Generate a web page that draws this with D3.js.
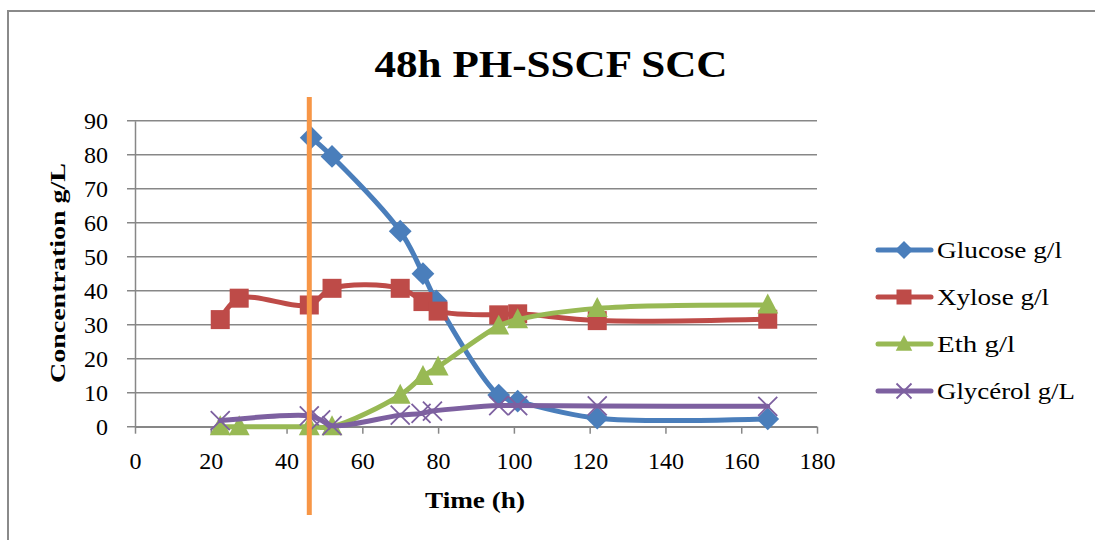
<!DOCTYPE html>
<html><head><meta charset="utf-8">
<script src="https://cdn.jsdelivr.net/npm/d3@7"></script>
<style>body{margin:0;background:#fff}svg{display:block}</style>
</head><body><svg id="c" width="1095" height="540"></svg>
<script>
// ---- data ----
const title = "48h PH-SSCF SCC";
const xLabel = "Time (h)";
const yLabel = "Concentration g/L";
const xTicks = [0,20,40,60,80,100,120,140,160,180];
const yTicks = [0,10,20,30,40,50,60,70,80,90];
const seriesNames = ["Glucose g/l","Xylose g/l","Eth g/l","Glycérol g/L"];
const glucoseT = [46.5,52,70,76,79.5,96,101,122,167];
const glucoseV = [85,79.5,57.5,45,37,9.3,7.5,2.5,2.3];
const xyloseT = [22.5,27.5,46,52,70,76,80,96,101,122,167];
const xyloseV = [31.5,37.8,35.8,40.7,40.7,36.8,34,32.9,33.2,31.2,31.6];
const ethT = [22.5,27.5,46,52,70,76,80,96,101,122,167];
const ethV = [0,0,0,0,9.3,14.8,17.6,29.6,31.5,34.8,35.8];
const glycerolT = [22.5,46,49,52,70,75.5,78.5,96,101,122,167];
const glycerolV = [1.8,3.2,2,0.3,3.4,3.9,4.6,6.2,6.2,6.1,6];
const markerTime = 46;

const svg = d3.select("#c");
const font = "'Liberation Serif', 'Times New Roman', serif";
const x = d3.scaleLinear().domain([0,180]).range([135,817]);
const y = d3.scaleLinear().domain([0,90]).range([426.7,120.7]);
const colors = ["#4A7EBB","#BE4B48","#98B954","#7D60A0"];
const gridCol = "#878787";

// frame
svg.append("path").attr("d","M8,540 V11 H1095").attr("fill","none").attr("stroke","#8a8a8a").attr("stroke-width",2);

// title
svg.append("text").attr("x",551).attr("y",77).attr("text-anchor","middle")
  .attr("font-family",font).attr("font-weight","bold").attr("font-size",38)
  .attr("textLength",353).attr("lengthAdjust","spacingAndGlyphs").text(title);

// gridlines
svg.append("g").selectAll("line").data(yTicks).join("line")
  .attr("x1",127).attr("x2",817).attr("y1",d=>y(d)).attr("y2",d=>y(d))
  .attr("stroke",gridCol).attr("stroke-width",1.5);

// y axis
const yAx = svg.append("g").attr("transform","translate(135,0)")
  .call(d3.axisLeft(y).tickValues(yTicks).tickSize(0).tickPadding(27).tickFormat(d3.format("d")));
yAx.select(".domain").attr("stroke",gridCol).attr("stroke-width",1.5);
yAx.selectAll("text").attr("font-family",font).attr("font-size",24).attr("fill","#000").attr("dy","0.34em");

// x axis
const xAx = svg.append("g").attr("transform","translate(0,426.7)")
  .call(d3.axisBottom(x).tickValues(xTicks).tickSize(7).tickSizeOuter(0).tickPadding(18).tickFormat(d3.format("d")));
xAx.select(".domain").attr("stroke",gridCol).attr("stroke-width",1.5);
xAx.selectAll(".tick line").attr("stroke",gridCol).attr("stroke-width",1.5);
xAx.selectAll("text").attr("font-family",font).attr("font-size",24).attr("fill","#000");

// axis titles
svg.append("text").attr("transform","translate(65,273) rotate(-90)").attr("text-anchor","middle")
  .attr("font-family",font).attr("font-weight","bold").attr("font-size",22)
  .attr("textLength",220).attr("lengthAdjust","spacingAndGlyphs").text(yLabel);
svg.append("text").attr("x",475).attr("y",508).attr("text-anchor","middle")
  .attr("font-family",font).attr("font-weight","bold").attr("font-size",24)
  .attr("textLength",100).attr("lengthAdjust","spacingAndGlyphs").text(xLabel);

// series
const series = [
  {t:glucoseT,v:glucoseV,shape:"diamond"},
  {t:xyloseT,v:xyloseV,shape:"square"},
  {t:ethT,v:ethV,shape:"triangle"},
  {t:glycerolT,v:glycerolV,shape:"x"}
];
const line = d3.line().x(d=>x(d[0])).y(d=>y(d[1])).curve(d3.curveCatmullRom.alpha(0.5));

function marker(g, shape, cx, cy, col, s){
  if(shape==="diamond"){
    g.append("path").attr("d",`M${cx},${cy-s*0.6}L${cx+s*0.6},${cy}L${cx},${cy+s*0.6}L${cx-s*0.6},${cy}Z`).attr("fill",col);
  } else if(shape==="square"){
    g.append("rect").attr("x",cx-s/2).attr("y",cy-s/2).attr("width",s).attr("height",s).attr("fill",col);
  } else if(shape==="triangle"){
    g.append("path").attr("d",`M${cx},${cy-s*0.6}L${cx+s*0.55},${cy+s*0.45}L${cx-s*0.55},${cy+s*0.45}Z`).attr("fill",col);
  } else {
    const h=s*0.5;
    g.append("path").attr("d",`M${cx-h},${cy-h}L${cx+h},${cy+h}M${cx-h},${cy+h}L${cx+h},${cy-h}`)
      .attr("stroke",col).attr("stroke-width",1.8).attr("fill","none");
  }
}

series.forEach((s,i)=>{
  const pts = s.t.map((t,k)=>[t,s.v[k]]);
  const g = svg.append("g");
  g.append("path").attr("d",line(pts)).attr("fill","none").attr("stroke",colors[i])
    .attr("stroke-width",5).attr("stroke-linejoin","round").attr("stroke-linecap","round");
  pts.forEach(p=>marker(g,s.shape,x(p[0]),y(p[1]),colors[i],19));
});

// orange vertical marker line
svg.append("line").attr("x1",x(markerTime)).attr("x2",x(markerTime)).attr("y1",97).attr("y2",515)
  .attr("stroke","#F79646").attr("stroke-width",5);

// legend
const legY = [250,297,344,391];
const legW = [125,112,78,138];
seriesNames.forEach((n,i)=>{
  const g = svg.append("g");
  g.append("line").attr("x1",878).attr("x2",931).attr("y1",legY[i]).attr("y2",legY[i])
    .attr("stroke",colors[i]).attr("stroke-width",5).attr("stroke-linecap","round");
  marker(g,series[i].shape,904,legY[i],colors[i],15);
  g.append("text").attr("x",937).attr("y",legY[i]).attr("dy","0.35em")
    .attr("font-family",font).attr("font-size",24)
    .attr("textLength",legW[i]).attr("lengthAdjust","spacingAndGlyphs").text(n);
});
</script></body></html>
